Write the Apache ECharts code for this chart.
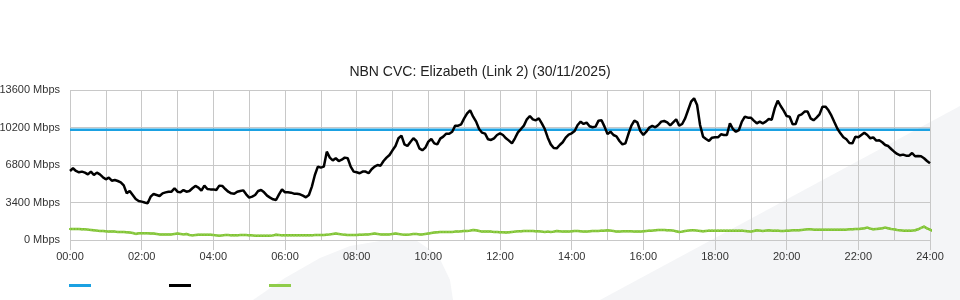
<!DOCTYPE html>
<html>
<head>
<meta charset="utf-8">
<script src="https://cdn.jsdelivr.net/npm/echarts@6/dist/echarts.min.js"></script>
<style>html,body{margin:0;padding:0;background:#fff;}#c{width:960px;height:300px;}</style>
</head>
<body>
<div id="c"></div>
<script>
// ---- data (5-minute samples, 00:00 .. 24:00) ----
const titleText = 'NBN CVC: Elizabeth (Link 2) (30/11/2025)';
const stepMinutes = 5;
const capacityMbps = 10000;
const yTicks = [0, 3400, 6800, 10200, 13600];
const xTickLabels = ['00:00','02:00','04:00','06:00','08:00','10:00','12:00','14:00','16:00','18:00','20:00','22:00','24:00'];
const seriesNames = ['Capacity', 'Download', 'Upload'];

const download = [
6260,6500,6260,6140,6200,6110,5950,6200,5890,6110,5950,5700,5500,5650,5380,5440,5350,5230,4950,4230,4440,4080,3720,3540,
3480,3400,3330,3930,4170,4080,3990,4230,4320,4380,4380,4690,4380,4320,4530,4380,4440,4690,4900,4750,4470,4930,4620,4590,
4590,4530,4930,4900,4620,4380,4230,4200,4380,4440,4500,4140,3840,3930,4080,4440,4530,4320,4020,3840,3690,3630,4140,4590,
4320,4320,4290,4200,4200,4140,4020,3870,4080,4840,5890,6650,6560,6650,8010,7470,7220,7410,7160,7280,7470,7410,6650,6200,
6140,6050,6200,6200,6050,6410,6650,6800,6740,7160,7470,7710,8130,8520,9220,9460,8670,8520,8890,9220,8980,8310,8130,8370,
8920,9160,8760,8670,9190,9370,9640,9640,9820,10370,10370,10490,11030,11480,11760,11180,10730,10060,9730,9640,9130,9070,9220,9520,
9670,9520,9220,9010,8760,9220,9760,10060,10370,10940,11240,10940,10850,11030,10580,10060,9280,8670,8340,8310,8610,8860,9280,9550,
9670,9880,10430,10730,10520,10640,10310,10220,10280,10820,10850,10280,9610,9820,9520,9400,8980,8670,8760,9610,10370,10820,10670,9880,
9520,9820,10190,10340,10220,10430,10730,10790,10670,10400,10670,10940,10370,10520,11030,11790,12540,12850,12240,10430,9370,9160,8980,9280,
9310,9310,9580,9520,9520,10580,10060,9820,9970,10730,11180,11090,11090,10820,10580,10730,10580,10730,10970,10910,11940,12630,12150,11730,
11240,11180,10490,10520,11270,11390,11640,11640,11030,10850,11090,11390,12090,12090,11760,11270,10670,10090,9670,9310,9130,8800,8760,9370,
9310,9520,9730,9520,9220,9310,9010,9040,8860,8610,8520,8250,8010,7800,7680,7740,7650,7650,7890,7590,7620,7590,7410,7160,
6950
];

const upload = [
1000,1000,1000,1000,970,970,940,910,880,850,820,820,790,760,760,760,730,730,730,700,670,640,550,610,
610,610,610,580,580,550,510,510,510,510,510,550,580,550,510,550,450,420,450,480,480,480,480,480,
450,420,390,420,450,450,420,420,420,450,450,450,420,420,390,390,390,390,390,390,420,480,450,420,
420,420,420,420,420,420,420,420,420,420,450,450,450,450,480,510,550,580,550,510,480,450,450,450,
450,480,480,510,510,550,580,550,510,510,510,510,550,580,550,510,480,480,510,550,550,510,510,550,
580,640,670,700,730,730,730,730,730,760,760,790,820,820,850,910,880,820,760,760,760,760,730,730,
700,700,670,700,730,760,790,790,820,820,820,820,790,790,760,730,760,730,760,820,790,760,760,760,
790,820,820,790,760,760,790,820,820,820,850,850,880,850,820,760,760,790,790,790,790,760,760,760,
790,820,850,850,880,910,910,910,880,880,850,790,730,760,820,850,880,880,850,820,790,820,850,850,
850,850,850,850,850,850,850,850,850,850,820,790,760,820,880,850,820,850,880,850,850,850,820,820,
850,850,880,880,880,910,940,970,970,940,940,940,940,940,940,940,940,940,940,940,940,970,970,1000,
1000,1030,1060,1120,1030,970,1000,1030,1060,1120,1060,1000,970,910,880,850,850,850,850,880,970,1090,1210,1060,
940,820
];

// ---- chart ----
const toPairs = arr => arr.map((v, i) => [i * stepMinutes, v]);
const lastMinute = (download.length - 1) * stepMinutes;
const capacityLine = [[0, capacityMbps], [lastMinute, capacityMbps]];

const font = 'Liberation Sans, Arial, sans-serif';
const gridColor = '#c8c8c8';
const wm = '#f4f5f7';

const chart = echarts.init(document.getElementById('c'), null, {renderer: 'canvas'});
chart.setOption({
  animation: false,
  backgroundColor: '#ffffff',
  textStyle: {fontFamily: font},
  graphic: [
    {type: 'polygon', z: -10, silent: true,
     shape: {points: [[253,300],[285,278],[320,258],[350,246],[380,241],[417,241],[438,255],[450,280],[453,300]]},
     style: {fill: wm}},
    {type: 'polygon', z: -10, silent: true,
     shape: {points: [[600,300],[960,106],[960,300]]},
     style: {fill: wm}}
  ],
  title: {
    text: titleText, left: 'center', top: 60,
    textStyle: {fontSize: 14, fontWeight: 'normal', color: '#222', fontFamily: font}
  },
  legend: {
    data: seriesNames, left: 64, top: 279, icon: 'rect',
    itemWidth: 22, itemHeight: 3, itemGap: 78,
    formatter: () => '', selectedMode: false
  },
  grid: {left: 70, right: 30, top: 90, bottom: 60, containLabel: false, outerBoundsMode: 'none'},
  xAxis: {
    type: 'value', min: 0, max: lastMinute, interval: 120,
    axisLine: {show: false},
    axisTick: {show: true, length: 10, lineStyle: {color: gridColor}},
    minorTick: {show: false, splitNumber: 2},
    splitLine: {show: true, lineStyle: {color: gridColor, width: 1}},
    minorSplitLine: {show: true, lineStyle: {color: gridColor, width: 1}},
    axisLabel: {
      margin: 11, fontSize: 11, color: '#333', fontFamily: font,
      formatter: v => xTickLabels[Math.round(v / 120)]
    }
  },
  yAxis: {
    type: 'value', min: yTicks[0], max: yTicks[yTicks.length - 1], interval: yTicks[1] - yTicks[0],
    axisLine: {show: false}, axisTick: {show: false},
    splitLine: {show: true, lineStyle: {color: gridColor, width: 1}},
    axisLabel: {margin: 10, fontSize: 11, color: '#333', fontFamily: font, formatter: v => String(v) + ' Mbps'}
  },
  series: [
    {name: seriesNames[0], type: 'line', data: capacityLine, showSymbol: false, color: '#1ba1e2',
     lineStyle: {width: 2.5, color: '#1ba1e2'}, z: 3},
    {name: seriesNames[1], type: 'line', data: toPairs(download), showSymbol: false, color: '#000000',
     lineStyle: {width: 2.5, color: '#000000'}, z: 4},
    {name: seriesNames[2], type: 'line', data: toPairs(upload), showSymbol: true, symbol: 'rect', symbolSize: 2,
     color: '#7cc12e', itemStyle: {color: '#8fcc4a'}, lineStyle: {width: 2.5, color: '#7cc12e'}, z: 3}
  ]
});
</script>
</body>
</html>
